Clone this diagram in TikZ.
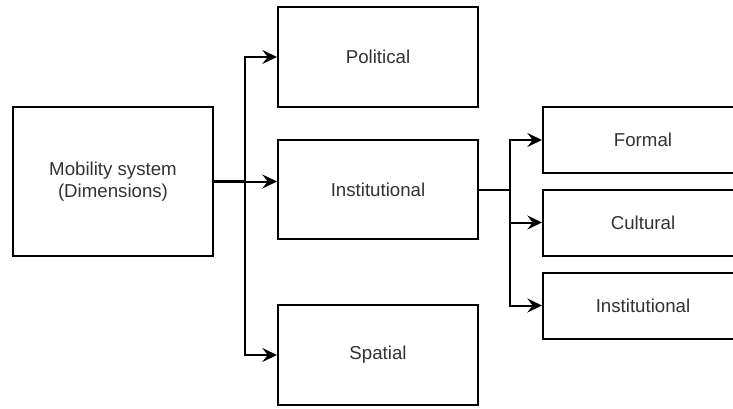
\documentclass[tikz,border=0pt]{standalone}
\usepackage{fontspec}
\setmainfont{Liberation Sans}
\usetikzlibrary{arrows.meta}
\definecolor{labelgray}{RGB}{50,50,50}
\tikzset{
  box/.style={draw=black, line width=1.5pt, rectangle, minimum width=150pt,
    text=labelgray, font=\fontsize{14}{16.5}\selectfont, align=center, inner sep=0pt},
  link/.style={draw=black, line width=1.5pt,
    -{Stealth[length=11pt, width=10.5pt, inset=4pt]}},
  feed/.style={draw=black, line width=1.5pt}
}
\begin{document}
\begin{tikzpicture}[x=0.75pt, y=-0.75pt]
  \useasboundingbox (0,0) rectangle (733,408);
  \clip (0,0) rectangle (733,408);

  % top-level dimension and its three branches
  \node[box, minimum height=111.75pt] (mob) at (113,181.5) {Mobility system\\(Dimensions)};
  \node[box, minimum height=75pt] (pol) at (378,57) {Political};
  \node[box, minimum height=74.25pt] (inst) at (378,189.5) {Institutional};
  \node[box, minimum height=75pt] (spa) at (378,355) {Spatial};

  % sub-dimensions of the institutional branch
  \node[box, minimum height=49.5pt] (form) at (643,140) {Formal};
  \node[box, minimum height=49.5pt] (cult) at (643,222.5) {Cultural};
  \node[box, minimum height=49.5pt] (inst2) at (643,305.5) {Institutional};

  % connectors from the mobility system (three edges share the first stretch)
  \coordinate (j1) at (245,181.5);
  \draw[feed, line width=2.2pt] (mob.east) -- (j1);
  \draw[link] (j1) |- (pol.west);
  \draw[link] (j1) -- (j1 -| inst.west);
  \draw[link] (j1) |- (spa.west);

  % connectors from the institutional branch
  \coordinate (j2) at (510,189.5);
  \draw[feed] (inst.east) -- (j2);
  \draw[link] (j2) |- (form.west);
  \draw[link] (j2) |- (cult.west);
  \draw[link] (j2) |- (inst2.west);
\end{tikzpicture}
\end{document}
